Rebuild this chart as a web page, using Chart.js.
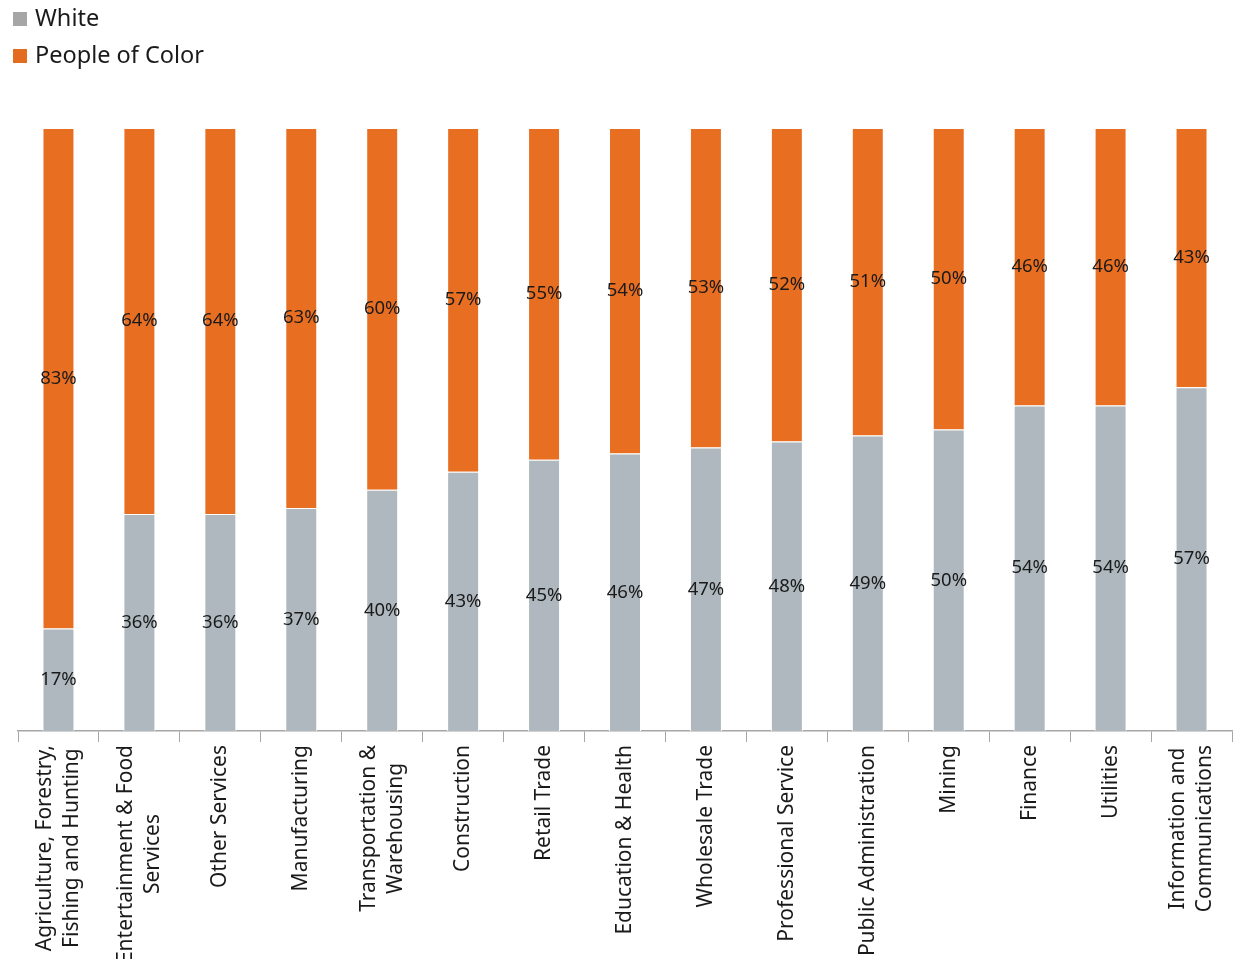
<!DOCTYPE html>
<html>
<head>
<meta charset="utf-8">
<script src="https://cdn.jsdelivr.net/npm/chart.js@4"></script>
<style>
	body { margin: 0; background: #fff; font-family: "Noto Sans", sans-serif; }
	#wrap { position: relative; width: 1236px; height: 959px; }
	#legend { position: absolute; left: 13px; top: 0px; font-size: 23.5px; color: #1a1a1a; }
	#legend div { height: 37px; line-height: 34px; white-space: nowrap; }
	#legend span { display: inline-block; width: 14px; height: 14px; margin-right: 8px; }
</style>
</head>
<body>
<div id="wrap">
	<div id="legend"></div>
	<canvas id="mycanvas"></canvas>
</div>
<script>
var industries = [
	["Agriculture, Forestry,", "Fishing and Hunting"],
	["Entertainment & Food", "Services"],
	"Other Services",
	"Manufacturing",
	["Transportation &", "Warehousing"],
	"Construction",
	"Retail Trade",
	"Education & Health",
	"Wholesale Trade",
	"Professional Service",
	"Public Administration",
	"Mining",
	"Finance",
	"Utilities",
	["Information and", "Communications"]
];
var white = [17, 36, 36, 37, 40, 43, 45, 46, 47, 48, 49, 50, 54, 54, 57];
var people_of_color = [83, 64, 64, 63, 60, 57, 55, 54, 53, 52, 51, 50, 46, 46, 43];

var legendColors = ["#a6a6a6", "#e46c20"];

// percent labels in the middle of each segment
var segmentLabels = {
	id: "segmentLabels",
	afterDatasetsDraw: function(chart) {
		var ctx = chart.ctx;
		ctx.save();
		ctx.font = "18.5px 'Noto Sans'";
		ctx.fillStyle = "#1a1a1a";
		ctx.textAlign = "center";
		ctx.textBaseline = "middle";
		chart.data.datasets.forEach(function(ds, i) {
			chart.getDatasetMeta(i).data.forEach(function(bar, j) {
				var p = bar.getProps(["x", "y", "base"], true);
				ctx.fillText(ds.data[j] + "%", p.x, (p.y + p.base) / 2);
			});
		});
		ctx.restore();
	}
};

// vertical category labels: block hangs from the axis, lines centred in the block
var categoryLabels = {
	id: "categoryLabels",
	afterDraw: function(chart) {
		var ctx = chart.ctx;
		var xs = chart.scales.x;
		var lineHeight = 27;
		ctx.save();
		ctx.font = "21px 'Noto Sans'";
		ctx.fillStyle = "#1a1a1a";
		ctx.textAlign = "center";
		ctx.textBaseline = "middle";
		chart.data.labels.forEach(function(lab, i) {
			var lines = Array.isArray(lab) ? lab : [lab];
			var x = xs.getPixelForValue(i);
			var maxW = 0;
			lines.forEach(function(l) { maxW = Math.max(maxW, ctx.measureText(l).width); });
			for (var k = 0; k < lines.length; k++) {
				var off = (k - (lines.length - 1) / 2) * lineHeight;
				ctx.save();
				ctx.translate(x + off, xs.top + 14 + maxW / 2);
				ctx.rotate(-Math.PI / 2);
				ctx.fillText(lines[k], 0, 0);
				ctx.restore();
			}
		});
		ctx.restore();
	}
};

var chartdata = {
	labels: industries,
	datasets: [
		{
			label: "White",
			backgroundColor: "#aeb8be",
			borderColor: "#ffffff",
			borderWidth: 1,
			data: white
		},
		{
			label: "People of Color",
			backgroundColor: "#e86e22",
			borderColor: "#ffffff",
			borderWidth: 1,
			data: people_of_color
		}
	]
};

var ctx = document.getElementById("mycanvas");

var BarGraph = new Chart(ctx, {
	type: "bar",
	data: chartdata,
	plugins: [segmentLabels, categoryLabels],
	options: {
		responsive: true,
		maintainAspectRatio: false,
		animation: false,
		layout: { padding: { top: 128, left: 18, right: 4, bottom: 0 } },
		datasets: { bar: { barPercentage: 0.395, categoryPercentage: 1 } },
		plugins: {
			legend: { display: false },
			tooltip: { enabled: false }
		},
		scales: {
			x: {
				stacked: true,
				afterFit: function(scale) {
					scale.height = 228;
					scale.paddingLeft = 0;
					scale.paddingRight = 0;
				},
				border: { color: "#a6a6a6", width: 1.5 },
				grid: { offset: true, drawOnChartArea: false, color: "#a6a6a6", tickLength: 11 },
				ticks: { display: false }
			},
			y: {
				stacked: true,
				display: false,
				min: 0,
				max: 100
			}
		}
	}
});

var legend = document.getElementById("legend");
chartdata.datasets.forEach(function(ds, i) {
	var row = document.createElement("div");
	var box = document.createElement("span");
	box.style.background = legendColors[i];
	row.appendChild(box);
	row.appendChild(document.createTextNode(ds.label));
	legend.appendChild(row);
});
</script>
</body>
</html>
